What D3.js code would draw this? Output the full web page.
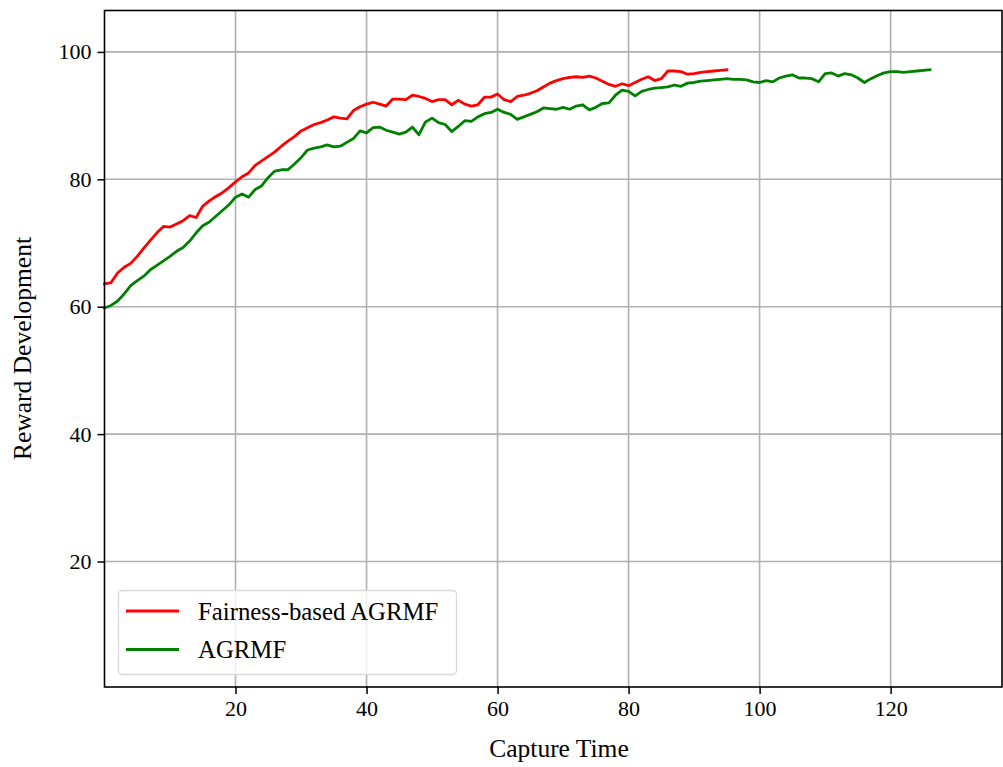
<!DOCTYPE html>
<html>
<head>
<meta charset="utf-8">
<script src="https://cdn.jsdelivr.net/npm/d3@7"></script>
<style>
  html, body { margin: 0; padding: 0; background: #fff; }
  svg { display: block; }
  text { font-family: "Liberation Serif", "Times New Roman", serif; fill: #000; }
</style>
</head>
<body>
<div id="chart"></div>
<script>
// ---------------- data ----------------
const seriesNames = ["Fairness-based AGRMF", "AGRMF"];
const seriesColors = ["#ff0000", "#008000"];

const fairnessValues = [
  63.6, 63.8, 65.3, 66.2, 66.8, 67.9, 69.2, 70.4, 71.6, 72.6,
  72.5, 73.0, 73.5, 74.3, 74.0, 75.8, 76.6, 77.3, 77.9, 78.7,
  79.6, 80.4, 81.0, 82.2, 82.9, 83.6, 84.3, 85.2, 86.0, 86.7,
  87.6, 88.1, 88.6, 88.9, 89.3, 89.8, 89.6, 89.5, 90.8, 91.4,
  91.8, 92.1, 91.8, 91.5, 92.6, 92.6, 92.5, 93.2, 93.0, 92.7,
  92.2, 92.5, 92.5, 91.7, 92.4, 91.8, 91.5, 91.7, 92.9, 92.9,
  93.4, 92.5, 92.2, 93.0, 93.2, 93.5, 93.9, 94.5, 95.1, 95.5,
  95.8, 96.0, 96.1, 96.0, 96.2, 95.9, 95.4, 94.9, 94.6, 95.0,
  94.7, 95.2, 95.7, 96.1, 95.5, 95.8, 97.0, 97.0, 96.9, 96.5,
  96.6, 96.8, 96.9, 97.0, 97.1, 97.2
];

const agrmfValues = [
  59.8, 60.2, 60.9, 62.0, 63.3, 64.1, 64.8, 65.8, 66.5, 67.2,
  67.9, 68.7, 69.3, 70.3, 71.6, 72.7, 73.3, 74.2, 75.1, 76.0,
  77.2, 77.7, 77.2, 78.4, 79.0, 80.3, 81.3, 81.5, 81.5, 82.4,
  83.4, 84.6, 84.9, 85.1, 85.4, 85.1, 85.2, 85.8, 86.4, 87.6,
  87.3, 88.1, 88.2, 87.7, 87.4, 87.1, 87.4, 88.2, 87.0, 89.0,
  89.6, 88.9, 88.6, 87.5, 88.3, 89.2, 89.1, 89.8, 90.3, 90.5,
  91.0, 90.5, 90.2, 89.4, 89.8, 90.2, 90.6, 91.2, 91.1, 91.0,
  91.3, 91.0, 91.5, 91.7, 90.9, 91.3, 91.9, 92.0, 93.2, 94.0,
  93.8, 93.1, 93.8, 94.1, 94.3, 94.4, 94.5, 94.8, 94.6, 95.1,
  95.2, 95.4, 95.5, 95.6, 95.7, 95.8, 95.7, 95.7, 95.6, 95.3,
  95.2, 95.5, 95.3, 95.9, 96.2, 96.4, 95.9, 95.9, 95.8, 95.3,
  96.6, 96.7, 96.2, 96.6, 96.4, 95.9, 95.2, 95.8, 96.3, 96.7,
  96.9, 96.9, 96.8, 96.9, 97.0, 97.1, 97.2
];

const xTicks = [20, 40, 60, 80, 100, 120];
const yTicks = [20, 40, 60, 80, 100];
const xDomain = [0, 137];
const yDomain = [0.3, 106.5];
const xLabel = "Capture Time";
const yLabel = "Reward Development";

// ---------------- layout ----------------
const W = 1003, H = 767;
const plot = { left: 104.5, top: 10.5, right: 1002, bottom: 687 };

const svg = d3.select("#chart").append("svg")
  .attr("width", W).attr("height", H);

const x = d3.scaleLinear().domain(xDomain).range([plot.left, plot.right]);
const y = d3.scaleLinear().domain(yDomain).range([plot.bottom, plot.top]);

// grid
const grid = svg.append("g");
grid.selectAll("line.gx").data(xTicks).enter().append("line")
  .attr("x1", d => x(d)).attr("x2", d => x(d))
  .attr("y1", plot.top).attr("y2", plot.bottom)
  .attr("stroke", "#b0b0b0").attr("stroke-width", 1.6);
grid.selectAll("line.gy").data(yTicks).enter().append("line")
  .attr("x1", plot.left).attr("x2", plot.right)
  .attr("y1", d => y(d)).attr("y2", d => y(d))
  .attr("stroke", "#b0b0b0").attr("stroke-width", 1.6);

// lines
const series = [
  { name: seriesNames[0], color: seriesColors[0], values: fairnessValues },
  { name: seriesNames[1], color: seriesColors[1], values: agrmfValues }
];
const line = d3.line().x((d, i) => x(i)).y(d => y(d));
svg.append("g").selectAll("path").data(series).enter().append("path")
  .attr("d", d => line(d.values))
  .attr("fill", "none")
  .attr("stroke", d => d.color)
  .attr("stroke-width", 2.8)
  .attr("stroke-linejoin", "round")
  .attr("stroke-linecap", "square");

// axes
const xAxis = d3.axisBottom(x).tickValues(xTicks).tickSize(7).tickPadding(6).tickFormat(d3.format("d"));
const yAxis = d3.axisLeft(y).tickValues(yTicks).tickSize(7).tickPadding(6).tickFormat(d3.format("d"));

const gx = svg.append("g").attr("transform", `translate(0,${plot.bottom})`).call(xAxis);
const gy = svg.append("g").attr("transform", `translate(${plot.left},0)`).call(yAxis);
[gx, gy].forEach(g => {
  g.select(".domain").remove();
  g.selectAll(".tick line").attr("stroke", "#000").attr("stroke-width", 1.5);
  g.selectAll(".tick text").attr("font-family", "Liberation Serif").attr("font-size", 22).attr("fill", "#000");
});

// frame
svg.append("rect")
  .attr("x", plot.left).attr("y", plot.top)
  .attr("width", plot.right - plot.left).attr("height", plot.bottom - plot.top)
  .attr("fill", "none").attr("stroke", "#000").attr("stroke-width", 1.6);

// axis labels
svg.append("text")
  .attr("x", 559).attr("y", 757)
  .attr("text-anchor", "middle").attr("font-size", 25.5)
  .text(xLabel);
svg.append("text")
  .attr("transform", `translate(31,${348.5}) rotate(-90)`)
  .attr("text-anchor", "middle").attr("font-size", 25.5)
  .text(yLabel);

// legend
const lg = svg.append("g");
lg.append("rect")
  .attr("x", 118.5).attr("y", 590.5).attr("width", 338).attr("height", 84)
  .attr("rx", 4).attr("ry", 4)
  .attr("fill", "rgba(255,255,255,0.8)").attr("stroke", "#d9d9d9").attr("stroke-width", 1.3);
const items = lg.selectAll("g.item").data(series).enter().append("g")
  .attr("transform", (d, i) => `translate(0,${611 + i * 38.5})`);
items.append("line")
  .attr("x1", 126).attr("x2", 179).attr("y1", 0).attr("y2", 0)
  .attr("stroke", d => d.color).attr("stroke-width", 2.8);
items.append("text")
  .attr("x", 198).attr("y", 8.5).attr("font-size", 24.8)
  .text(d => d.name);
</script>
</body>
</html>
